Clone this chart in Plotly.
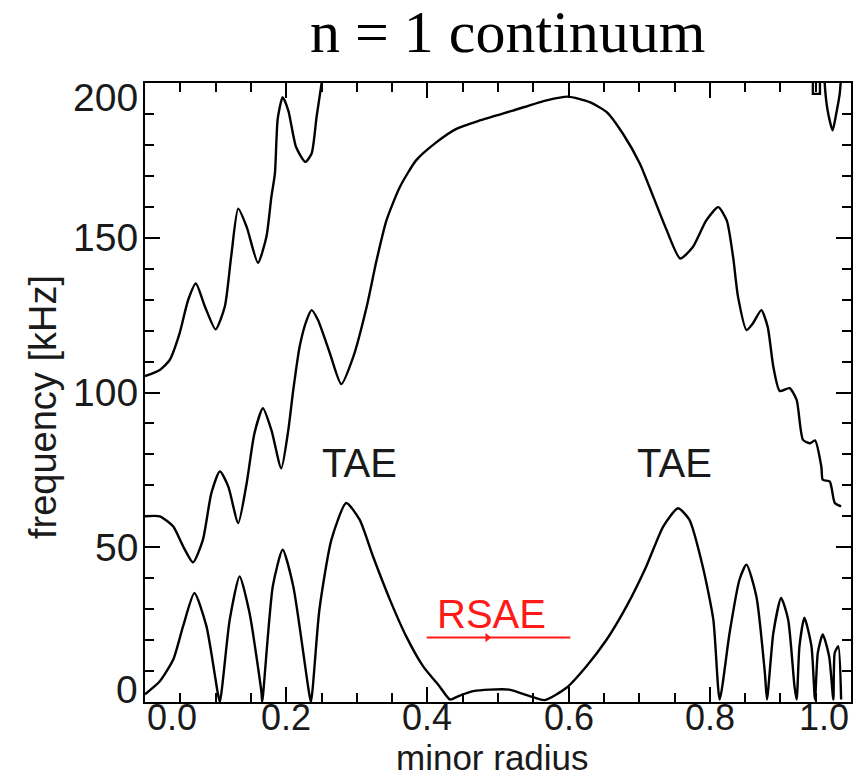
import plotly.graph_objects as go

# ---- data (minor radius, frequency kHz) ----
lower_x = [0.0, 0.021, 0.040, 0.054, 0.070, 0.087, 0.103, 0.106, 0.120, 0.134, 0.148, 0.165, 0.166,
           0.181, 0.195, 0.210, 0.231, 0.235, 0.247, 0.264, 0.285, 0.304, 0.323, 0.347, 0.370, 0.394,
           0.417, 0.432, 0.445, 0.465, 0.488, 0.516, 0.545, 0.566, 0.597, 0.625, 0.654, 0.682, 0.710,
           0.734, 0.755, 0.771, 0.790, 0.805, 0.814, 0.828, 0.842, 0.852, 0.866, 0.878, 0.881, 0.890,
           0.901, 0.911, 0.920, 0.923, 0.927, 0.934, 0.944, 0.949, 0.953, 0.960, 0.969, 0.975, 0.977,
           0.982, 0.986]
lower_y = [2.5, 6.7, 13.7, 24.5, 35.2, 24.5, 3.0, 0.0, 26.6, 40.6, 28.8, 3.0, 0.0,
           37.4, 49.2, 37.4, 5.0, 0.0, 29.8, 52.4, 64.3, 58.9, 47.0, 33.0, 21.2, 11.5,
           5.1, 0.8, 2.0, 3.5, 4.0, 4.0, 1.9, 0.6, 4.6, 11.5, 20.2, 30.9, 43.8,
           56.7, 62.6, 58.9, 43.8, 26.6, 0.8, 22.3, 39.5, 44.4, 34.1, 9.4, 0.8, 22.3,
           33.6, 26.6, 5.0, 0.8, 18.0, 27.2, 18.0, 0.8, 15.9, 21.8, 14.8, 0.8, 15.9,
           18.0, 0.8]

middle_x = [0.0, 0.021, 0.040, 0.054, 0.068, 0.082, 0.094, 0.106, 0.118, 0.132, 0.144, 0.155, 0.167,
            0.179, 0.193, 0.203, 0.210, 0.219, 0.229, 0.236, 0.245, 0.262, 0.278, 0.295, 0.314, 0.328,
            0.342, 0.361, 0.384, 0.413, 0.441, 0.474, 0.521, 0.569, 0.599, 0.630, 0.654, 0.677, 0.701,
            0.720, 0.739, 0.758, 0.776, 0.795, 0.812, 0.824, 0.833, 0.840, 0.852, 0.861, 0.873, 0.882,
            0.890, 0.899, 0.913, 0.923, 0.932, 0.942, 0.949, 0.958, 0.960, 0.970, 0.977, 0.986]
middle_y = [60.0, 60.0, 56.7, 50.3, 45.1, 52.4, 67.5, 74.5, 69.6, 57.8, 70.7, 86.8, 94.9,
            87.9, 75.5, 87.9, 100.8, 114.8, 123.4, 126.6, 123.4, 112.6, 102.7, 111.5, 127.7, 142.7,
            155.6, 166.4, 175.0, 180.9, 185.2, 187.9, 191.1, 194.4, 195.6, 193.8, 190.6, 183.6, 173.9,
            163.2, 152.4, 143.3, 147.0, 155.6, 159.9, 155.6, 143.8, 130.9, 120.2, 122.3, 126.6, 121.2,
            108.3, 100.5, 101.4, 97.6, 84.7, 83.6, 84.5, 76.0, 71.8, 71.2, 64.3, 63.2]

upper_x = [0.0, 0.021, 0.035, 0.049, 0.061, 0.072, 0.085, 0.100, 0.113, 0.122, 0.132, 0.144, 0.160,
           0.172, 0.179, 0.184, 0.188, 0.195, 0.203, 0.214, 0.227, 0.236, 0.243, 0.250, 0.254]
upper_y = [105.3, 107.3, 110.5, 119.1, 129.8, 135.2, 127.7, 120.4, 127.7, 143.8, 159.4, 153.5, 141.9,
           150.3, 163.2, 170.7, 188.5, 195.4, 191.1, 179.3, 174.5, 177.2, 189.0, 199.7, 206.0]

edge_x = [0.962, 0.963, 0.967, 0.974, 0.979, 0.984, 0.987]
edge_y = [206.0, 199.0, 191.0, 184.7, 190.0, 196.5, 206.0]

notch_x = [0.946, 0.946, 0.956, 0.956]
notch_y = [206.0, 196.5, 196.5, 206.0]

rsae_x = [0.399, 0.6025]
rsae_y = [20.8, 20.8]
rsae_arrow_x = [0.485]
rsae_arrow_y = [20.8]

x_tick_vals = [0.0, 0.2, 0.4, 0.6, 0.8, 1.0]
x_tick_text = ["0.0", "0.2", "0.4", "0.6", "0.8", "1.0"]
y_tick_vals = [0, 50, 100, 150, 200]
y_tick_text = ["0", "50", "100", "150", "200"]

title_text = "n = 1 continuum"
x_title = "minor radius"
y_title = "frequency [kHz]"
labels = [("TAE", 0.304, 77.3, "#1a1a1a"), ("TAE", 0.750, 77.3, "#1a1a1a"), ("RSAE", 0.491, 28.5, "#ff1a1a")]

SANS = "Liberation Sans, Arial, sans-serif"
INK = "#1a1a1a"

fig = go.Figure()
for xs, ys, shape in [(lower_x, lower_y, "spline"), (middle_x, middle_y, "spline"),
                      (upper_x, upper_y, "spline"), (edge_x, edge_y, "spline"),
                      (notch_x, notch_y, "linear")]:
    line = dict(color="black", width=2.4, shape=shape)
    if shape == "spline":
        line["smoothing"] = 0.6
    fig.add_trace(go.Scatter(x=xs, y=ys, mode="lines", line=line,
                             showlegend=False, hoverinfo="skip"))

fig.add_trace(go.Scatter(x=rsae_x, y=rsae_y, mode="lines", line=dict(color="#ff1a1a", width=2),
                         showlegend=False, hoverinfo="skip"))
fig.add_trace(go.Scatter(x=rsae_arrow_x, y=rsae_arrow_y, mode="markers",
                         marker=dict(symbol="triangle-right", size=8, color="#ff1a1a"),
                         showlegend=False, hoverinfo="skip"))

annotations = []
for v, t in zip(x_tick_vals, x_tick_text):
    anchor = "left" if v == x_tick_vals[0] else ("right" if v == x_tick_vals[-1] else "center")
    annotations.append(dict(x=v, y=0, xref="x", yref="paper", text=t, showarrow=False,
                            xanchor=anchor, yanchor="middle", yshift=-15,
                            font=dict(family=SANS, size=36, color=INK)))
for v, t in zip(y_tick_vals, y_tick_text):
    yy = v
    if v == y_tick_vals[0]:
        yy = 3.9
    elif v == y_tick_vals[-1]:
        yy = 195.2
    annotations.append(dict(x=0, y=yy, xref="paper", yref="y", text=t, showarrow=False,
                            xanchor="right", yanchor="middle", xshift=-5,
                            font=dict(family=SANS, size=39, color=INK)))
for t, x, y, c in labels:
    annotations.append(dict(x=x, y=y, xref="x", yref="y", text=t, showarrow=False,
                            xanchor="center", yanchor="middle", font=dict(family=SANS, size=40, color=c)))
annotations.append(dict(x=0.4925, y=0, xref="x", yref="paper", text=x_title, showarrow=False,
                        xanchor="center", yanchor="middle", yshift=-55,
                        font=dict(family=SANS, size=35, color=INK)))
annotations.append(dict(x=0, y=95.3, xref="paper", yref="y", text=y_title, showarrow=False, textangle=-90,
                        xanchor="center", yanchor="middle", xshift=-102,
                        font=dict(family=SANS, size=38, color=INK)))
annotations.append(dict(x=0.514, y=1, xref="paper", yref="paper", text=title_text, showarrow=False,
                        xanchor="center", yanchor="middle", yshift=51,
                        font=dict(family="Liberation Serif, Times New Roman, serif", size=60, color="black")))

axis_common = dict(showgrid=False, zeroline=False, showline=True, linecolor="black", linewidth=2,
                   mirror="ticks", ticks="inside", tickcolor="black", tickwidth=2, ticklen=15,
                   showticklabels=False)
fig.update_xaxes(range=[0, 1.0], tick0=0, dtick=0.2,
                 minor=dict(dtick=0.05, ticks="inside", ticklen=9, tickwidth=2, tickcolor="black"),
                 **axis_common)
fig.update_yaxes(range=[0, 200], tick0=0, dtick=50,
                 minor=dict(dtick=10, ticks="inside", ticklen=9, tickwidth=2, tickcolor="black"),
                 **axis_common)

fig.update_layout(width=864, height=778, margin=dict(l=145, r=11, t=83, b=76),
                  paper_bgcolor="white", plot_bgcolor="white", annotations=annotations,
                  showlegend=False)

fig.write_html("out.html")
